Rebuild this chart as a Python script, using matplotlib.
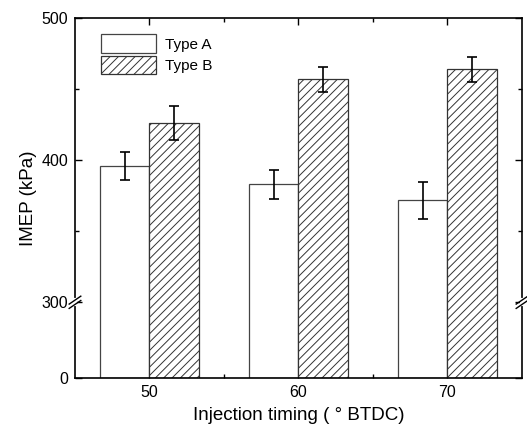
import numpy as np
import matplotlib
matplotlib.use('Agg')
import matplotlib.pyplot as plt
from matplotlib.ticker import FixedLocator

plt.rcParams['font.family'] = ['Liberation Sans', 'DejaVu Sans']
plt.rcParams['hatch.linewidth'] = 0.7

# IMEP versus injection timing
timing = [50, 60, 70]
type_a = [396, 383, 372]
type_a_err = [10, 10.5, 13]
type_b = [426, 457, 464]
type_b_err = [12, 9, 9]

# broken axis: 0-300 squeezed into a short segment
LOW = 53.6


def fwd(v):
    v = np.asarray(v, dtype=float)
    return np.where(v <= 300, v / 300 * LOW, LOW + (v - 300))


def inv(t):
    t = np.asarray(t, dtype=float)
    return np.where(t <= LOW, t / LOW * 300, t - LOW + 300)


fig = plt.figure(figsize=(5.27, 4.30), dpi=100)
ax = fig.add_axes([0.1423, 0.120, 0.8482, 0.8374])
ax.set_yscale('function', functions=(fwd, inv))

w = 10 / 3
x = np.array(timing, dtype=float)
ax.bar(x - w / 2, type_a, w, color='white', edgecolor='#444444', linewidth=0.9,
       label='Type A', zorder=2)
ax.bar(x + w / 2, type_b, w, color='white', edgecolor='#333333', linewidth=0.9,
       hatch='////', label='Type B', zorder=2)
ax.errorbar(x - w / 2, type_a, yerr=type_a_err, fmt='none', ecolor='black',
            elinewidth=1.2, capsize=3.5, capthick=1.2, zorder=3)
ax.errorbar(x + w / 2, type_b, yerr=type_b_err, fmt='none', ecolor='black',
            elinewidth=1.2, capsize=3.5, capthick=1.2, zorder=3)

ax.set_xlim(45, 75)
ax.set_ylim(0, 500)
ax.set_xticks(timing)
ax.xaxis.set_minor_locator(FixedLocator([55, 65]))
ax.yaxis.set_major_locator(FixedLocator([0, 300, 400, 500]))
ax.yaxis.set_minor_locator(FixedLocator([350, 450]))
ax.yaxis.set_major_formatter(plt.FuncFormatter(lambda v, p: f'{v:.0f}'))
ax.yaxis.set_minor_formatter(plt.NullFormatter())
ax.tick_params(which='both', direction='in', top=True, right=True,
               labelsize=11.5, width=1)
ax.tick_params(which='major', length=5, pad=5)
ax.tick_params(which='minor', length=3)
for s in ax.spines.values():
    s.set_linewidth(1.2)

ax.set_xlabel('Injection timing ( ° BTDC)', fontsize=13.5, labelpad=5)
ax.set_ylabel('IMEP (kPa)', fontsize=13.5, labelpad=3)

# break marks on both spines at 300
yb = LOW / fwd(500).item()
dx, dy, gap = 0.013, 0.011, 0.006
for xs in (0, 1):
    ax.plot([xs, xs], [yb - gap, yb + gap], color='white', lw=3,
            transform=ax.transAxes, clip_on=False, zorder=5)
    for off in (-gap, gap):
        ax.plot([xs - dx, xs + dx], [yb + off - dy, yb + off + dy],
                color='black', lw=1.0, transform=ax.transAxes,
                clip_on=False, zorder=6)

ax.legend(loc='upper left', frameon=False, fontsize=11, handlelength=3.6,
          handleheight=1.5, borderaxespad=0.4, bbox_to_anchor=(0.03, 0.99),
          handletextpad=0.6, labelspacing=0.2)

fig.savefig('out.png', dpi=100)
